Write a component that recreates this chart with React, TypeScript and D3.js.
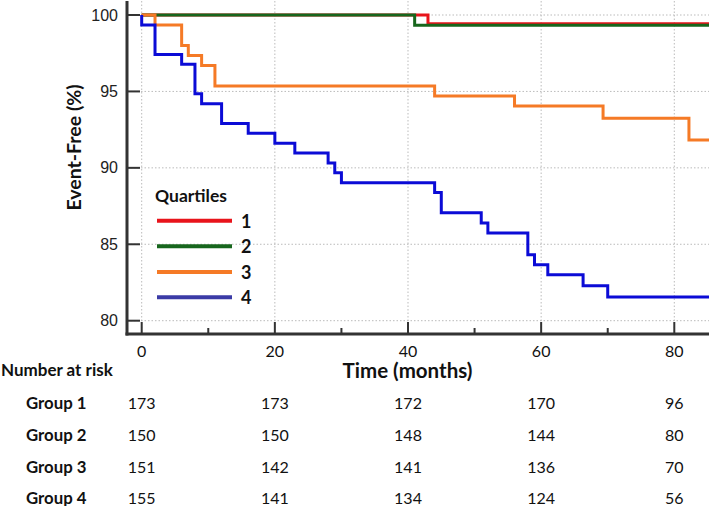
import React from "react";
import * as d3 from "d3";

const xTicks = [0, 20, 40, 60, 80];
const xMinorTicks = [10, 30, 50, 70];
const yTicks = [80, 85, 90, 95, 100];
const followUpEnd = 85.4;

const groupNames = ["Group 1", "Group 2", "Group 3", "Group 4"];
const legendLabels = ["1", "2", "3", "4"];
const colors = ["#e8141b", "#17661d", "#f57a26", "#0b0bd6"];
const legendColors = ["#e8141b", "#17661d", "#f57a26", "#3b3ba6"];

const q1Times = [0, 43];
const q1Values = [100, 99.42];
const q2Times = [0, 41];
const q2Values = [100, 99.33];
const q3Times = [0, 2, 6, 7, 9, 11, 44, 56, 69.3, 82.2];
const q3Values = [100, 99.34, 98.01, 97.35, 96.69, 95.36, 94.7, 94.04, 93.25, 91.83];
const q4Times = [0, 0, 2, 6, 8, 9, 12, 16, 20, 23, 28, 29, 30, 44, 45, 51, 52, 58, 59, 61, 66.3, 70];
const q4Values = [100, 99.35, 97.42, 96.77, 94.84, 94.19, 92.9, 92.26, 91.61, 90.97, 90.32, 89.68, 89.03, 88.39, 87.07, 86.39, 85.73, 84.31, 83.66, 83.0, 82.29, 81.55];

const risk1 = [173, 173, 172, 170, 96];
const risk2 = [150, 150, 148, 144, 80];
const risk3 = [151, 142, 141, 136, 70];
const risk4 = [155, 141, 134, 124, 56];

const seriesTimes = [q1Times, q2Times, q3Times, q4Times];
const seriesValues = [q1Values, q2Values, q3Values, q4Values];
const riskRows = [risk1, risk2, risk3, risk4];

const W = 709;
const H = 506;

export default function App() {
  const x = d3.scaleLinear().domain([0, 80]).range([141.7, 674.3]);
  const y = d3.scaleLinear().domain([80, 100]).range([320.7, 15]);
  const axisX = 127;
  const axisY = 334;

  const line = d3
    .line<[number, number]>()
    .x((d) => x(d[0]))
    .y((d) => y(d[1]))
    .curve(d3.curveStepAfter);

  const paths = seriesTimes.map((ts, i) => {
    const pts: [number, number][] = ts.map((t, j) => [t, seriesValues[i][j]]);
    pts.push([followUpEnd, seriesValues[i][seriesValues[i].length - 1]]);
    return line(pts) || "";
  });

  const tickFont = "'Liberation Sans', Arial, sans-serif";
  const labelFont = "Lato, 'Open Sans', sans-serif";

  const legendY = [220.7, 246.3, 272, 297.3];
  const rowY = [402, 434, 466, 497];

  return (
    <svg
      width={W}
      height={H}
      style={{ position: "absolute", left: 0, top: 0, background: "#fff" }}
    >
      <rect x={0} y={0} width={W} height={H} fill="#fff" />
      {/* grid */}
      {xTicks.map((t) => (
        <line
          key={"gx" + t}
          x1={x(t)}
          x2={x(t)}
          y1={1}
          y2={axisY}
          stroke="#bbb"
          strokeWidth={1}
          strokeDasharray="1.5,2"
        />
      ))}
      {yTicks.map((v) => (
        <line
          key={"gy" + v}
          x1={axisX}
          x2={W}
          y1={y(v)}
          y2={y(v)}
          stroke="#bbb"
          strokeWidth={1}
          strokeDasharray="1.5,2"
        />
      ))}

      {/* curves */}
      {paths.map((d, i) => (
        <path key={"c" + i} d={d} fill="none" stroke={colors[i]} strokeWidth={3} />
      ))}

      {/* axes */}
      <line x1={axisX} x2={axisX} y1={1} y2={axisY + 1.5} stroke="#333" strokeWidth={3} />
      <line x1={axisX - 1.5} x2={W} y1={axisY} y2={axisY} stroke="#333" strokeWidth={3} />
      {yTicks.map((v) => (
        <g key={"yt" + v}>
          <line x1={axisX} x2={axisX + 13} y1={y(v)} y2={y(v)} stroke="#333" strokeWidth={2} />
          <text
            x={118}
            y={y(v)}
            textAnchor="end"
            dominantBaseline="central"
            fontFamily={tickFont}
            fontSize={16}
            fill="#222"
          >
            {v}
          </text>
        </g>
      ))}
      {xTicks.map((t) => (
        <g key={"xt" + t}>
          <line x1={x(t)} x2={x(t)} y1={axisY} y2={axisY - 12} stroke="#333" strokeWidth={2} />
          <text
            x={x(t)}
            y={350}
            textAnchor="middle"
            dominantBaseline="central"
            fontFamily={labelFont}
            fontSize={16}
            fill="#111"
          >
            {t}
          </text>
        </g>
      ))}
      {xMinorTicks.map((t) => (
        <line key={"xm" + t} x1={x(t)} x2={x(t)} y1={axisY} y2={axisY - 6} stroke="#333" strokeWidth={2} />
      ))}

      {/* axis labels */}
      <text
        transform={`translate(73,147.5) rotate(-90)`}
        textAnchor="middle"
        dominantBaseline="central"
        fontFamily={labelFont}
        fontWeight="bold"
        fontSize={19.5}
        fill="#111"
      >
        Event-Free (%)
      </text>
      <text
        x={407.5}
        y={370}
        textAnchor="middle"
        dominantBaseline="central"
        fontFamily={labelFont}
        fontWeight="bold"
        fontSize={20.5}
        fill="#111"
      >
        Time (months)
      </text>

      {/* legend */}
      <text
        x={155}
        y={195}
        dominantBaseline="central"
        fontFamily={labelFont}
        fontWeight="bold"
        fontSize={17.5}
        fill="#111"
      >
        Quartiles
      </text>
      {legendLabels.map((lab, i) => (
        <g key={"lg" + i}>
          <line x1={157} x2={232} y1={legendY[i]} y2={legendY[i]} stroke={legendColors[i]} strokeWidth={4} />
          <text
            x={241}
            y={legendY[i]}
            dominantBaseline="central"
            fontFamily={labelFont}
            fontWeight="bold"
            fontSize={18}
            fill="#111"
          >
            {lab}
          </text>
        </g>
      ))}

      {/* risk table */}
      <text
        x={1}
        y={369}
        dominantBaseline="central"
        fontFamily={labelFont}
        fontWeight="bold"
        fontSize={17}
        fill="#111"
      >
        Number at risk
      </text>
      {groupNames.map((g, i) => (
        <g key={"r" + i}>
          <text
            x={26}
            y={rowY[i]}
            dominantBaseline="central"
            fontFamily={labelFont}
            fontWeight="bold"
            fontSize={16.8}
            fill="#111"
          >
            {g}
          </text>
          {riskRows[i].map((n, j) => (
            <text
              key={j}
              x={x(xTicks[j])}
              y={rowY[i]}
              textAnchor="middle"
              dominantBaseline="central"
              fontFamily={labelFont}
              fontSize={16}
              fill="#111"
            >
              {n}
            </text>
          ))}
        </g>
      ))}
    </svg>
  );
}
